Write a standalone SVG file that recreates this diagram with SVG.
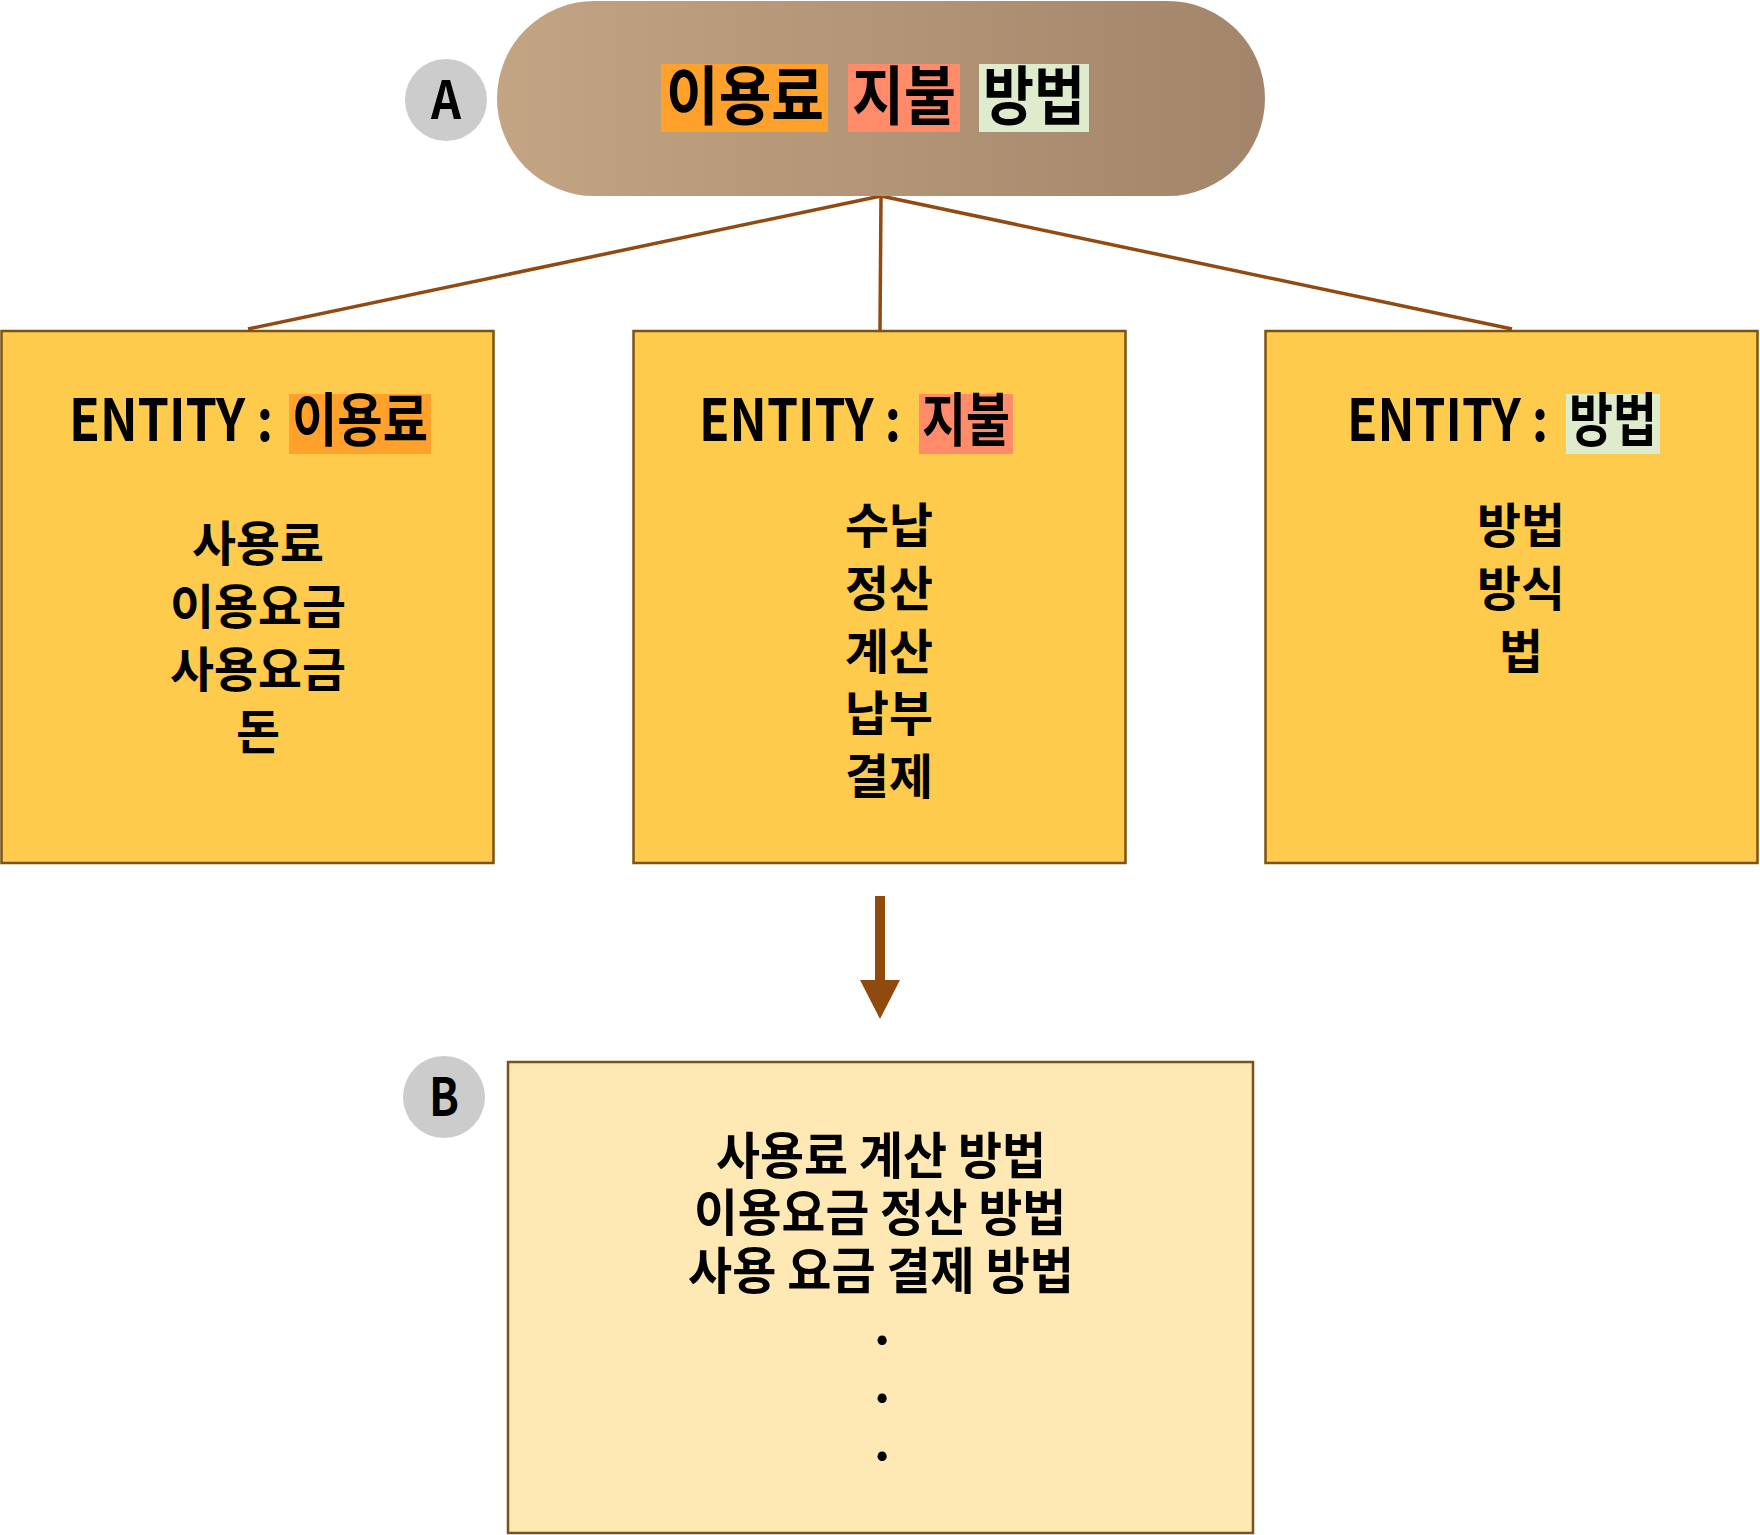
<svg xmlns="http://www.w3.org/2000/svg" width="1760" height="1535" viewBox="0 0 1760 1535">
<defs>
<linearGradient id="pillGrad" x1="0" y1="0" x2="1" y2="0">
<stop offset="0" stop-color="#C3A483"/>
<stop offset="1" stop-color="#A2856A"/>
</linearGradient>
</defs>
<style>
text { font-family: "Noto Sans CJK KR", "Noto Sans", sans-serif; font-weight: bold; fill: #000; }
.title { font-size: 64px; }
.ent { font-size: 58px; }
.item { font-size: 48px; text-anchor: middle; }
.btext { font-size: 50px; text-anchor: middle; }
.badge circle { fill: #CCCCCC; }
.badge text { font-size: 52px; text-anchor: middle; }
.entity rect.box { fill: #FECB4C; stroke: #7E5114; stroke-width: 2.5; }
.hl-orange { fill: #FFA12A; }
.hl-salmon { fill: #FF8B6B; }
.hl-green { fill: #DEEBCD; }
.conn { stroke: #914A12; stroke-width: 3.5; fill: none; }
</style>

<g id="connectors">
<line class="conn" x1="881" y1="196" x2="248" y2="329"/>
<line class="conn" x1="881" y1="196" x2="880" y2="330"/>
<line class="conn" x1="881" y1="196" x2="1512" y2="329"/>
<line x1="880" y1="896" x2="880" y2="982" stroke="#914A0E" stroke-width="10"/>
<path d="M860,980 L900,980 L880,1019 z" fill="#914A0E"/>
</g>

<g id="badge-a" class="badge">
<circle cx="446" cy="100" r="41"/>
<text x="446" y="119" textLength="30" lengthAdjust="spacingAndGlyphs">A</text>
</g>

<g id="title">
<rect x="497" y="1" width="768" height="195" rx="97.5" fill="url(#pillGrad)"/>
<rect class="hl-orange" x="661" y="64" width="167" height="68"/>
<rect class="hl-salmon" x="848" y="64" width="112" height="68"/>
<rect class="hl-green" x="979" y="64" width="110" height="68"/>
<text class="title" x="745" y="119" text-anchor="middle" textLength="158" lengthAdjust="spacingAndGlyphs">이용료</text>
<text class="title" x="904" y="119" text-anchor="middle" textLength="104" lengthAdjust="spacingAndGlyphs">지불</text>
<text class="title" x="1034" y="119" text-anchor="middle" textLength="102" lengthAdjust="spacingAndGlyphs">방법</text>
</g>

<g id="entity-usage" class="entity">
<rect class="box" x="1.5" y="331" width="492" height="532"/>
<rect class="hl-orange" x="289" y="394" width="142" height="60"/>
<text class="ent" x="69" y="441" textLength="204" lengthAdjust="spacingAndGlyphs">ENTITY :</text>
<text class="ent" x="360" y="441" text-anchor="middle" textLength="136" lengthAdjust="spacingAndGlyphs">이용료</text>
<text class="item"><tspan x="258" y="561" textLength="132" lengthAdjust="spacingAndGlyphs">사용료</tspan><tspan x="258" y="624" textLength="176" lengthAdjust="spacingAndGlyphs">이용요금</tspan><tspan x="258" y="687" textLength="176" lengthAdjust="spacingAndGlyphs">사용요금</tspan><tspan x="258" y="749" textLength="44" lengthAdjust="spacingAndGlyphs">돈</tspan></text>
</g>

<g id="entity-payment" class="entity">
<rect class="box" x="633.5" y="331" width="492" height="532"/>
<rect class="hl-salmon" x="919" y="394" width="94" height="60"/>
<text class="ent" x="699" y="441" textLength="202" lengthAdjust="spacingAndGlyphs">ENTITY :</text>
<text class="ent" x="966" y="441" text-anchor="middle" textLength="88" lengthAdjust="spacingAndGlyphs">지불</text>
<text class="item"><tspan x="889" y="543" textLength="88" lengthAdjust="spacingAndGlyphs">수납</tspan><tspan x="889" y="606" textLength="88" lengthAdjust="spacingAndGlyphs">정산</tspan><tspan x="889" y="669" textLength="88" lengthAdjust="spacingAndGlyphs">계산</tspan><tspan x="889" y="731" textLength="88" lengthAdjust="spacingAndGlyphs">납부</tspan><tspan x="889" y="794" textLength="88" lengthAdjust="spacingAndGlyphs">결제</tspan></text>
</g>

<g id="entity-method" class="entity">
<rect class="box" x="1265.5" y="331" width="492" height="532"/>
<rect class="hl-green" x="1566" y="394" width="94" height="60"/>
<text class="ent" x="1347" y="441" textLength="201" lengthAdjust="spacingAndGlyphs">ENTITY :</text>
<text class="ent" x="1613" y="441" text-anchor="middle" textLength="88" lengthAdjust="spacingAndGlyphs">방법</text>
<text class="item"><tspan x="1521" y="543" textLength="88" lengthAdjust="spacingAndGlyphs">방법</tspan><tspan x="1521" y="606" textLength="88" lengthAdjust="spacingAndGlyphs">방식</tspan><tspan x="1521" y="669" textLength="44" lengthAdjust="spacingAndGlyphs">법</tspan></text>
</g>

<g id="badge-b" class="badge">
<circle cx="444" cy="1097" r="41"/>
<text x="444" y="1116" textLength="30" lengthAdjust="spacingAndGlyphs">B</text>
</g>

<g id="result">
<rect x="508" y="1062" width="745" height="471" fill="#FEE8B3" stroke="#7E5114" stroke-width="2.5"/>
<text class="btext"><tspan x="881" y="1174" textLength="330" lengthAdjust="spacingAndGlyphs">사용료 계산 방법</tspan><tspan x="880" y="1231" textLength="372" lengthAdjust="spacingAndGlyphs">이용요금 정산 방법</tspan><tspan x="881" y="1289" textLength="386" lengthAdjust="spacingAndGlyphs">사용 요금 결제 방법</tspan><tspan x="882" y="1344">.</tspan><tspan x="882" y="1402">.</tspan><tspan x="882" y="1460">.</tspan></text>
</g>
</svg>
